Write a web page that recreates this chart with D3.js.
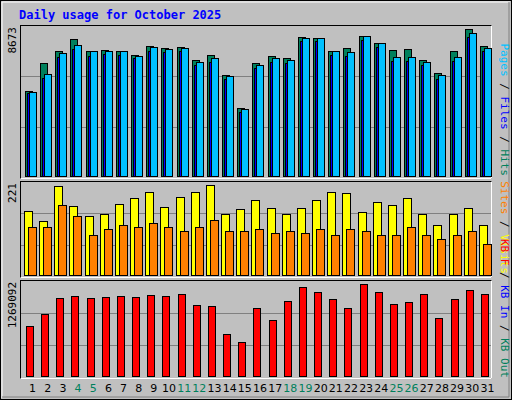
<!DOCTYPE html><html><head><script src="https://cdn.jsdelivr.net/npm/d3@7"></script>
<style>body{margin:0}svg{display:block}</style></head><body><svg id="c" width="512" height="400"></svg>
<script>
const days=d3.range(1,32);
const hits=[5015,6667,7375,8083,7375,7434,7375,7139,7670,7552,7611,6844,7139,5959,4012,6667,7080,6962,8201,8142,7375,7552,8260,7847,7434,7493,6844,6077,7375,8673,7670];
const files=[4900,5800,7000,7500,7100,7200,7150,6950,7400,7300,7350,6550,6750,5700,3800,6350,6750,6650,7950,7950,7150,7100,8050,7600,6800,6800,6550,5750,6800,8200,7350];
const pages=[4956,6018,7257,7729,7375,7375,7375,7080,7611,7493,7552,6726,6962,5900,3953,6549,6962,6844,8142,8142,7375,7316,8260,7847,7021,7021,6726,5959,7021,8437,7552];
const visits=[156,132,219,169,144,149,174,189,204,166,191,204,221,151,161,184,164,151,164,184,204,201,154,179,171,189,151,122,149,164,124];
const sites=[117,117,171,146,99,112,124,119,127,119,109,119,134,107,107,114,104,107,102,112,97,112,107,99,99,119,99,89,99,109,77];
const kbytes=[689750,855290,1076010,1103600,1076010,1089805,1103600,1089805,1117395,1103600,1131190,979445,965650,579390,469030,938060,772520,1034625,1227755,1158780,1062215,938060,1269092,1158780,993240,1020830,1131190,800110,1062215,1186370,1131190];
const weekend=[4,5,11,12,18,19,25,26];
const svg=d3.select("#c");
const F="DejaVu Sans Mono, monospace";
svg.append("rect").attr("width",512).attr("height",400).attr("fill","#c0c0c0");
svg.append("rect").attr("x",0.5).attr("y",0.5).attr("width",511).attr("height",399).attr("fill","none").attr("stroke","#000");
svg.append("path").attr("d","M2,398V2H510").attr("stroke","#fff").attr("fill","none");
svg.append("path").attr("d","M2,397H509V2").attr("stroke","#808080").attr("fill","none");
svg.append("text").attr("x",19).attr("y",19).attr("fill","#0000ff").attr("font-family",F).attr("font-weight","bold").attr("font-size",12).text("Daily usage for October 2025");
const x=d3.scaleBand().domain(days).range([21,491]).padding(0);
function panel(y0,y1){
 svg.append("rect").attr("x",20.5).attr("y",y0+0.5).attr("width",471).attr("height",y1-y0).attr("fill","#c0c0c0").attr("stroke","#000");
 svg.append("path").attr("d",`M20.5,${y1+0.5}H491.5V${y0+0.5}`).attr("stroke","#fff").attr("fill","none");
 const h=(y1-y0)/3;
 for(let i=1;i<3;i++)svg.append("line").attr("x1",21).attr("x2",491).attr("y1",Math.round(y0+h*i)+0.5).attr("y2",Math.round(y0+h*i)+0.5).attr("stroke","#808080");
}
function bars(data,y,dx,w,col){
 svg.append("g").selectAll("rect").data(data).join("rect")
 .attr("x",(d,i)=>Math.round(x(days[i]))+dx+0.5).attr("y",d=>Math.round(y(d))+0.5)
 .attr("width",w).attr("height",d=>y(0)-Math.round(y(d))).attr("fill",col).attr("stroke","#000");
}
panel(25,178);
const y1=d3.scaleLinear().domain([0,8673]).range([176,29]);
bars(hits,y1,4,7,"#00805c");
bars(files,y1,6,7,"#0000ff");
bars(pages,y1,8,7,"#00c0ff");
panel(181,277);
const y2=d3.scaleLinear().domain([0,221]).range([275,185]);
bars(visits,y2,3,8,"#ffff00");
bars(sites,y2,7,8,"#ff8000");
panel(280,378);
const y3=d3.scaleLinear().domain([0,1269092]).range([376,284]);
bars(kbytes,y3,5,7,"#ff0000");
function vlab(txt,yc){svg.append("text").attr("transform",`translate(16,${yc}) rotate(-90)`).attr("text-anchor","end").attr("font-family",F).attr("font-size",11).attr("fill","#000").text(txt);}
vlab("8673",27);vlab("221",183);vlab("1269092",282);
function rlab(parts,yStart){
 const t=svg.append("text").attr("transform",`translate(501,${yStart}) rotate(90)`).attr("text-anchor","end").attr("font-family",F).attr("font-size",11);
 parts.forEach(p=>t.append("tspan").attr("fill",p[1]).text(p[0]));
}
rlab([["Pages","#00c0ff"],[" / ","#000"],["Files","#0000ff"],[" / ","#000"],["Hits","#00805c"]],176);
rlab([["Sites","#ff8000"],[" / ","#000"],["Visits","#ffff00"]],274);
rlab([["KB F","#ff0000"],[" / ","#000"],["KB In","#0000ff"],[" / ","#000"],["KB Out","#00805c"]],378);
svg.append("g").selectAll("text").data(days).join("text").attr("x",d=>x(d)+x.bandwidth()/2+4).attr("y",392)
 .attr("text-anchor","middle").attr("font-family","DejaVu Sans, sans-serif").attr("font-size",11)
 .attr("fill",d=>weekend.includes(d)?"#00805c":"#000").text(d=>d);
</script></body></html>
